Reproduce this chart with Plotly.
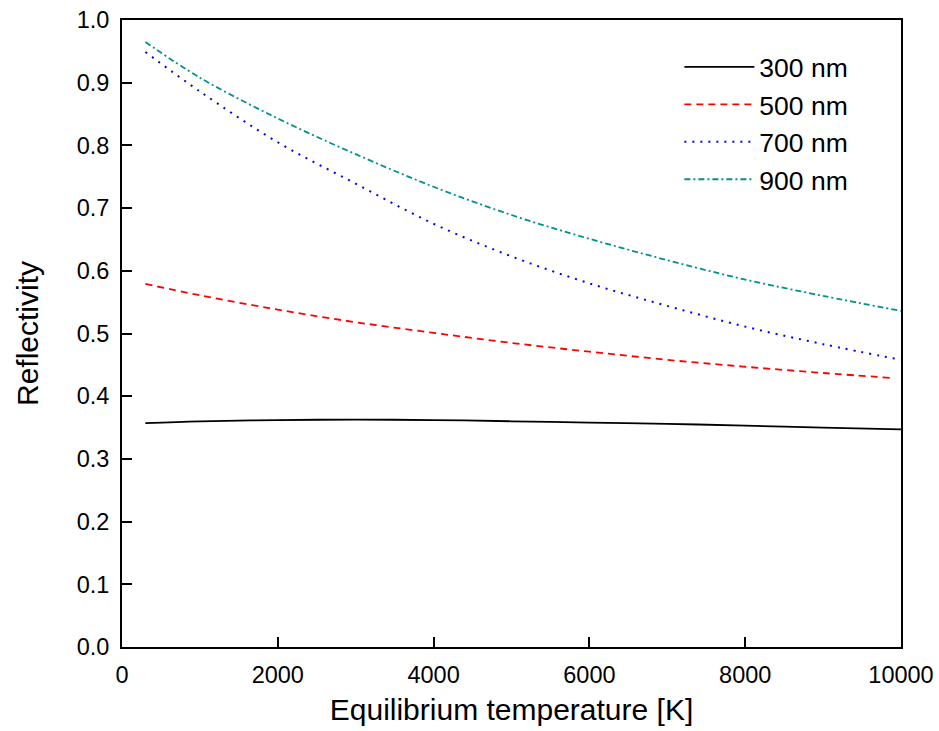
import plotly.graph_objects as go

# Data
temperature = [300, 1000, 2000, 3000, 4000, 5000, 6000, 7000, 8000, 9000, 10000]
temperature_500 = [300, 1000, 2000, 3000, 4000, 5000, 6000, 7000, 8000, 9000, 9900]

refl_300 = [0.357, 0.360, 0.362, 0.3625, 0.362, 0.360, 0.358, 0.356, 0.353, 0.350, 0.347]
refl_500 = [0.579, 0.561, 0.538, 0.518, 0.501, 0.485, 0.471, 0.458, 0.447, 0.437, 0.429]
refl_700 = [0.949, 0.886, 0.805, 0.739, 0.675, 0.623, 0.580, 0.544, 0.511, 0.483, 0.458]
refl_900 = [0.965, 0.908, 0.843, 0.786, 0.734, 0.689, 0.651, 0.617, 0.586, 0.560, 0.536]

series_names = ["300 nm", "500 nm", "700 nm", "900 nm"]
x_ticks = [0, 2000, 4000, 6000, 8000, 10000]
y_ticks = [0.0, 0.1, 0.2, 0.3, 0.4, 0.5, 0.6, 0.7, 0.8, 0.9, 1.0]

FONT = "Arial, Liberation Sans, sans-serif"

fig = go.Figure()
fig.add_trace(go.Scatter(x=temperature, y=refl_300, name=series_names[0], mode="lines",
                         line=dict(color="black", width=1.8, shape="spline")))
fig.add_trace(go.Scatter(x=temperature_500, y=refl_500, name=series_names[1], mode="lines",
                         line=dict(color="#FF0000", width=1.8, dash="7px,5px", shape="spline")))
fig.add_trace(go.Scatter(x=temperature, y=refl_700, name=series_names[2], mode="lines",
                         line=dict(color="#0000FF", width=2, dash="2px,6px", shape="spline")))
fig.add_trace(go.Scatter(x=temperature, y=refl_900, name=series_names[3], mode="lines",
                         line=dict(color="#009090", width=1.8, dash="6px,3px,2px,3px", shape="spline")))

axis_common = dict(
    showline=True, linecolor="black", linewidth=2, mirror=True,
    ticks="inside", ticklen=10, tickwidth=2, tickcolor="black",
    showgrid=False, zeroline=False, automargin=False,
    tickfont=dict(family=FONT, size=23.5, color="black"),
)

fig.update_xaxes(range=[0, 10000], tickvals=x_ticks, ticktext=[str(v) for v in x_ticks],
                 title=dict(text="Equilibrium temperature [K]", font=dict(family=FONT, size=30, color="black"),
                            standoff=12),
                 ticklabelstandoff=6, **axis_common)
fig.update_yaxes(range=[0, 1.0], tickvals=y_ticks, ticktext=[f"{v:.1f}" for v in y_ticks],
                 title=dict(text="Reflectivity", font=dict(family=FONT, size=30, color="black"),
                            standoff=29),
                 ticklabelstandoff=6, **axis_common)

fig.update_layout(
    width=939, height=731,
    margin=dict(l=122, r=38, t=20, b=84, autoexpand=False),
    paper_bgcolor="white", plot_bgcolor="white",
    font=dict(family=FONT, color="black"),
    legend=dict(x=0.7155, y=0.963, xanchor="left", yanchor="top",
                font=dict(family=FONT, size=26.5, color="black"),
                bgcolor="rgba(0,0,0,0)", itemwidth=70),
)

fig.write_html("out.html")
